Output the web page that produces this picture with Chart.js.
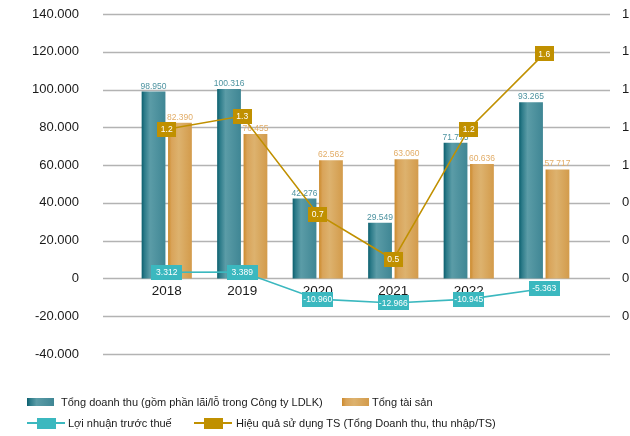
<!DOCTYPE html>
<html>
<head>
<meta charset="utf-8">
<script src="https://cdn.jsdelivr.net/npm/chart.js@4/dist/chart.umd.min.js"></script>
<style>
html, body { margin: 0; padding: 0; background: #fff; }
#wrap { position: relative; width: 630px; height: 436px; }
#legend { position: absolute; left: 0; top: 0; width: 630px; height: 436px; pointer-events: none;
  font: 11px "Liberation Sans", Arial, sans-serif; color: #1a1a1a; }
.lg { position: absolute; }
.txt { position: absolute; white-space: nowrap; line-height: 14px; }
</style>
</head>
<body>
<div id="wrap">
  <canvas id="chart" width="630" height="436"></canvas>
  <div id="legend"></div>
</div>
<script>
// Dữ liệu (tỷ đồng)
const years = ['2018', '2019', '2020', '2021', '2022', '2023'];
const revenue = [98950, 100316, 42276, 29549, 71775, 93265];
const assets = [82390, 76455, 62562, 63060, 60636, 57717];
const profit = [3312, 3389, -10960, -12966, -10945, -5363];
const efficiency = [1.19, 1.26, 0.74, 0.50, 1.19, 1.59];
const seriesNames = [
  'Tổng doanh thu (gồm phần lãi/lỗ trong Công ty LDLK)',
  'Tổng tài sản',
  'Lợi nhuận trước thuế',
  'Hiệu quả sử dụng TS (Tổng Doanh thu, thu nhập/TS)'
];

const FONT = '"Liberation Sans", Arial, sans-serif';
const TEAL = '#3bb8bf';
const GOLD = '#c09000';

// số kiểu Việt Nam: 98.950
function fmt(n) {
  const s = String(Math.abs(n)).replace(/\B(?=(\d{3})+(?!\d))/g, '.');
  return (n < 0 ? '-' : '') + s;
}

// gradient ngang cho từng cột
function barGradient(stops, fallback) {
  return function (ctx) {
    const el = ctx.element;
    if (!el || !isFinite(el.x) || !el.width) return fallback;
    const g = ctx.chart.ctx.createLinearGradient(el.x - el.width / 2, 0, el.x + el.width / 2, 0);
    stops.forEach(s => g.addColorStop(s[0], s[1]));
    return g;
  };
}
const blueStops = [[0, '#0b5f6e'], [0.12, '#2c7b89'], [0.35, '#5b9ca7'], [1, '#3f8694']];
const orangeStops = [[0, '#cc8a2c'], [0.15, '#d9a45a'], [0.45, '#ddb26e'], [1, '#d39b4b']];

// đường lưới kéo dài ra hai bên vùng cột
const gridLines = {
  id: 'gridLines',
  beforeDatasetsDraw(chart) {
    const y = chart.scales.y, c = chart.ctx, a = chart.chartArea;
    c.save();
    c.strokeStyle = '#b3b3b3';
    c.lineWidth = 1.4;
    y.ticks.forEach((t, i) => {
      const py = Math.round(y.getPixelForTick(i)) + 0.5;
      c.beginPath();
      c.moveTo(a.left - 26, py);
      c.lineTo(a.right + 28, py);
      c.stroke();
    });
    c.restore();
  }
};

// nhãn giá trị
const barLabelColors = ['#4d93a0', '#e2ad68'];
const lineBoxWidths = { 2: 31, 3: 19 };
const valueLabels = {
  id: 'valueLabels',
  afterDatasetDraw(chart, args) {
    const meta = args.meta, i0 = args.index, c = chart.ctx;
    const data = chart.data.datasets[i0].data;
    c.save();
    c.font = '8.5px ' + FONT;
    c.textAlign = 'center';
    if (meta.type === 'bar') {
      c.fillStyle = barLabelColors[i0];
      c.textBaseline = 'alphabetic';
      meta.data.forEach((el, i) => c.fillText(fmt(data[i]), el.x, el.y - 3));
    } else {
      const w = lineBoxWidths[i0], h = 15;
      meta.data.forEach((el, i) => {
        c.fillStyle = i0 === 2 ? TEAL : GOLD;
        c.fillRect(Math.round(el.x - w / 2), Math.round(el.y - h / 2), w, h);
        c.fillStyle = '#fff';
        c.textBaseline = 'middle';
        const txt = i0 === 2 ? fmt(data[i]) : data[i].toFixed(1);
        c.fillText(txt, el.x, el.y + 0.5);
      });
    }
    c.restore();
  }
};

// trục dọc: đặt bề rộng cố định, bỏ phần đệm trên/dưới do ticks.padding sinh ra
function fixAxis(width) {
  return s => { s.width = width; s.paddingTop = 0; s.paddingBottom = 0; };
}

const chart = new Chart(document.getElementById('chart'), {
  type: 'bar',
  data: {
    labels: years,
    datasets: [
      { label: seriesNames[0], data: revenue, yAxisID: 'y', order: 2,
        backgroundColor: barGradient(blueStops, '#4a8f9c'),
        categoryPercentage: 0.7, barPercentage: 0.9 },
      { label: seriesNames[1], data: assets, yAxisID: 'y', order: 2,
        backgroundColor: barGradient(orangeStops, '#d9a85e'),
        categoryPercentage: 0.7, barPercentage: 0.9 },
      { type: 'line', label: seriesNames[2], data: profit, yAxisID: 'y', order: 1,
        borderColor: TEAL, borderWidth: 1.6, pointRadius: 0, tension: 0 },
      { type: 'line', label: seriesNames[3], data: efficiency, yAxisID: 'y1', order: 1,
        borderColor: GOLD, borderWidth: 1.6, pointRadius: 0, tension: 0 }
    ]
  },
  options: {
    responsive: false,
    animation: false,
    layout: { padding: { top: 14, bottom: 82, left: 0, right: 0 } },
    plugins: { legend: { display: false }, tooltip: { enabled: false } },
    scales: {
      x: {
        position: { y: 0 },
        offset: true,
        grid: { display: false },
        border: { display: false },
        ticks: { color: '#1a1a1a', font: { family: FONT, size: 13.5 }, padding: -3, maxRotation: 0 },
        afterFit: s => { s.height = 0; }
      },
      y: {
        position: 'left',
        min: -40000, max: 140000,
        grid: { display: false, drawTicks: false },
        border: { display: false },
        ticks: { stepSize: 20000, padding: 50, color: '#1a1a1a', font: { family: FONT, size: 13 },
          callback: v => fmt(v) },
        afterFit: fixAxis(129)
      },
      y1: {
        position: 'right',
        min: 0, max: 1.8,
        grid: { display: false, drawTicks: false },
        border: { display: false },
        ticks: { stepSize: 0.2, padding: 40, color: '#1a1a1a', font: { family: FONT, size: 13 },
          callback: v => (Math.abs(v) < 1e-9 ? '' : v.toFixed(1)) },
        afterFit: fixAxis(48)
      }
    }
  },
  plugins: [gridLines, valueLabels]
});
// lần vẽ thứ hai để gradient biết vị trí cột
chart.update();

// Chú thích
const legend = document.getElementById('legend');
function add(html) { legend.insertAdjacentHTML('beforeend', html); }
const blueCss = 'linear-gradient(to right,' + blueStops.map(s => s[1] + ' ' + s[0] * 100 + '%').join(',') + ')';
const orangeCss = 'linear-gradient(to right,' + orangeStops.map(s => s[1] + ' ' + s[0] * 100 + '%').join(',') + ')';
add('<div class="lg" style="left:27px;top:398px;width:27px;height:8px;background:' + blueCss + '"></div>');
add('<div class="txt" style="left:61px;top:395px">' + seriesNames[0] + '</div>');
add('<div class="lg" style="left:342px;top:398px;width:27px;height:8px;background:' + orangeCss + '"></div>');
add('<div class="txt" style="left:372px;top:395px">' + seriesNames[1] + '</div>');
add('<div class="lg" style="left:27px;top:422px;width:38px;height:2px;background:' + TEAL + '"></div>');
add('<div class="lg" style="left:37px;top:418px;width:19px;height:11px;background:' + TEAL + '"></div>');
add('<div class="txt" style="left:68px;top:416px">' + seriesNames[2] + '</div>');
add('<div class="lg" style="left:194px;top:422px;width:38px;height:2px;background:' + GOLD + '"></div>');
add('<div class="lg" style="left:204px;top:418px;width:19px;height:11px;background:' + GOLD + '"></div>');
add('<div class="txt" style="left:236px;top:416px">' + seriesNames[3] + '</div>');
</script>
</body>
</html>
